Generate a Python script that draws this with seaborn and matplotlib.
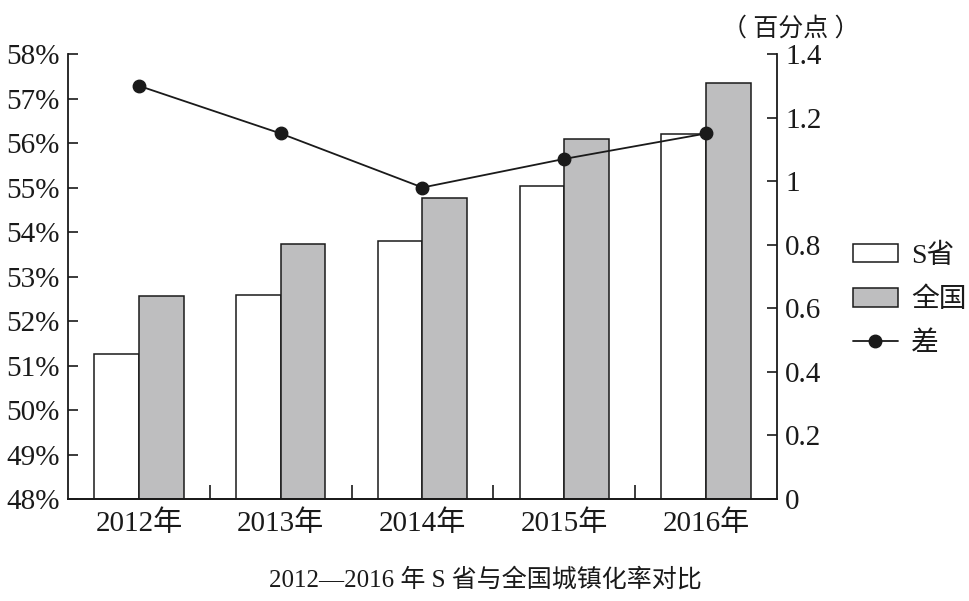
import matplotlib
matplotlib.use('Agg')
import matplotlib.pyplot as plt
import seaborn as sns
import pandas as pd
from matplotlib.patches import Patch
from matplotlib.lines import Line2D
from matplotlib.ticker import FixedLocator

years = ['2012年', '2013年', '2014年', '2015年', '2016年']
s_rate = [51.27, 52.58, 53.79, 55.03, 56.20]
national_rate = [52.57, 53.73, 54.77, 56.10, 57.35]
diff = [1.30, 1.15, 0.98, 1.07, 1.15]
series_names = ['S省', '全国', '差']
left_ticks = [48, 49, 50, 51, 52, 53, 54, 55, 56, 57, 58]
right_ticks = [0, 0.2, 0.4, 0.6, 0.8, 1.0, 1.2, 1.4]

sns.set_style('ticks')
plt.rcParams['font.family'] = ['Liberation Serif', 'Noto Sans CJK SC']
plt.rcParams['axes.unicode_minus'] = False

data = pd.DataFrame({
    'year': years * 2,
    'rate': s_rate + national_rate,
    'series': [series_names[0]] * len(years) + [series_names[1]] * len(years),
})

fig = plt.figure(figsize=(9.7, 6.01), dpi=100)
ax = fig.add_axes([0.0701, 0.1697, 0.7309, 0.7404])

sns.barplot(data=data, x='year', y='rate', hue='series',
            palette=['white', '#bebebf'], edgecolor='#1a1a1a', linewidth=1.1,
            width=0.63, saturation=1, legend=False, ax=ax)
# bars start at the axis bottom
for p in ax.patches:
    p.set_y(left_ticks[0])
    p.set_height(p.get_height() - left_ticks[0])

ax.set_ylim(left_ticks[0], left_ticks[-1])
ax.set_yticks(left_ticks)
ax.set_yticklabels([f'{v}%' for v in left_ticks])
ax.set_xlim(-0.5, len(years) - 0.5)
ax.set_xlabel('')
ax.set_ylabel('')

ax2 = ax.twinx()
sns.pointplot(x=years, y=diff, color='#1a1a1a', markers='o',
              linewidth=1.3, markersize=9, ax=ax2)
ax2.set_ylim(right_ticks[0], right_ticks[-1])
ax2.set_yticks(right_ticks)
ax2.set_yticklabels([f'{v:g}' for v in right_ticks])
ax2.set_xlim(-0.5, len(years) - 0.5)
ax2.set_ylabel('')

for a in (ax, ax2):
    a.spines['top'].set_visible(False)
    for s in a.spines.values():
        s.set_linewidth(1.3)
        s.set_color('#1a1a1a')
    a.tick_params(axis='y', direction='in', length=7, width=1.2,
                  labelsize=21, colors='#1a1a1a', pad=6)

ax.tick_params(axis='x', which='major', length=0, labelsize=21,
               colors='#1a1a1a', pad=8)
ax.xaxis.set_minor_locator(FixedLocator([i + 0.5 for i in range(len(years) - 1)]))
ax.tick_params(axis='x', which='minor', direction='in', length=10, width=1.2,
               color='#1a1a1a')
ax.spines['right'].set_visible(False)
ax2.spines['left'].set_visible(False)

fig.text(0.815, 0.953, '（ 百分点 ）', fontsize=18, ha='center', va='center',
         color='#1a1a1a')

handles = [
    Patch(facecolor='white', edgecolor='#1a1a1a', linewidth=1.1),
    Patch(facecolor='#bebebf', edgecolor='#1a1a1a', linewidth=1.1),
    Line2D([0], [0], color='#1a1a1a', linewidth=1.3, marker='o', markersize=9),
]
fig.legend(handles, series_names, loc='upper left',
           bbox_to_anchor=(0.868, 0.613), frameon=False, fontsize=20,
           handlelength=1.6, handleheight=0.65, handletextpad=0.5,
           labelspacing=0.67, borderaxespad=0, labelcolor='#1a1a1a')

fig.text(0.5, 0.035, '2012—2016 年 S 省与全国城镇化率对比', fontsize=18,
         ha='center', va='center', color='#1a1a1a',
         family=['Liberation Serif', 'Noto Sans CJK SC'])

plt.savefig('out.png', dpi=100)
